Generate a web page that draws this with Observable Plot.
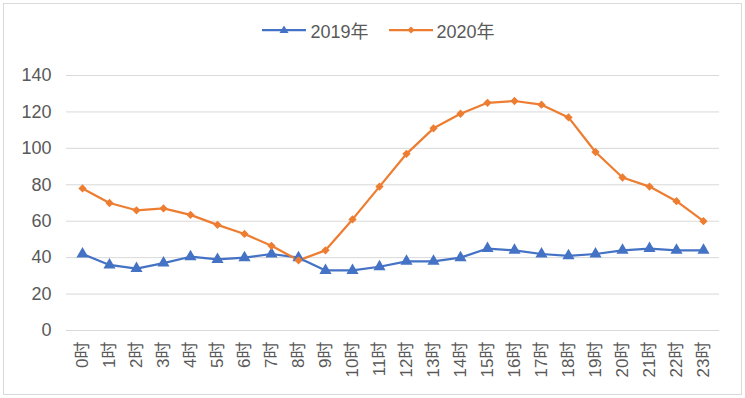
<!DOCTYPE html>
<html>
<head>
<meta charset="utf-8">
<script src="https://cdn.jsdelivr.net/npm/d3@7"></script>
<script src="https://cdn.jsdelivr.net/npm/@observablehq/plot@0.6"></script>
<style>
  html, body { margin: 0; padding: 0; background: #fff; }
  #frame { position: absolute; left: 3px; top: 3px; width: 737px; height: 390px; border: 1px solid #d9d9d9; overflow: hidden;
           font-family: "Liberation Sans", "Noto Sans CJK SC", sans-serif; color: #595959; }
  #legend { height: 52px; display: flex; justify-content: center; align-items: center; gap: 20px; font-size: 18px; padding-left: 12px; box-sizing: border-box; }
  .item { display: flex; align-items: center; gap: 4px; }
  #chart svg { display: block; }
</style>
</head>
<body>
<div id="frame">
  <div id="legend"></div>
  <div id="chart"></div>
</div>
<script>
const hours = ["0时","1时","2时","3时","4时","5时","6时","7时","8时","9时","10时","11时","12时","13时","14时","15时","16时","17时","18时","19时","20时","21时","22时","23时"];
const series2019 = [42,36,34,37,40.5,39,40,42,40,33,33,35,38,38,40,45,44,42,41,42,44,45,44,44];
const series2020 = [78,70,66,67,63.5,58,53,46.5,38.5,44,61,79,97,111,119,125,126,124,117,98,84,79,71,60];
const seriesNames = ["2019年","2020年"];
const colors = ["#4472C4","#ED7D31"];
const symbols = ["triangle","square"];
const yTicks = [0,20,40,60,80,100,120,140];

const rows = [];
hours.forEach((h,i) => {
  rows.push({hour:h, value:series2019[i], series:seriesNames[0]});
  rows.push({hour:h, value:series2020[i], series:seriesNames[1]});
});

// legend
const legend = document.getElementById("legend");
seriesNames.forEach((name,i) => {
  const it = document.createElement("div");
  it.className = "item";
  const sym = i === 0
    ? `<path d="M22,1.5 L26.5,9 L17.5,9 Z" fill="${colors[i]}"/>`
    : `<path d="M22,2.5 L25.5,6 L22,9.5 L18.5,6 Z" fill="${colors[i]}"/>`;
  it.innerHTML = `<svg width="44" height="12"><line x1="0" x2="44" y1="6" y2="6" stroke="${colors[i]}" stroke-width="2.25"/>${sym}</svg><span>${name}</span>`;
  legend.appendChild(it);
});

const chart = Plot.plot({
  width: 737,
  height: 338,
  marginTop: 19,
  marginBottom: 64,
  marginLeft: 62,
  marginRight: 22,
  style: {fontFamily: '"Liberation Sans", "Noto Sans CJK SC", sans-serif', fontSize: "17px", color: "#595959", background: "#fff"},
  x: {type: "point", domain: hours, padding: 0.5, label: null},
  y: {domain: [0,140], ticks: yTicks, label: null},
  color: {domain: seriesNames, range: colors},
  symbol: {domain: seriesNames, range: symbols},
  marks: [
    Plot.gridY(yTicks, {stroke: "#d9d9d9", strokeOpacity: 1, strokeWidth: 1}),
    Plot.axisY({ticks: yTicks, tickSize: 0, tickPadding: 15, fontSize: 18, fill: "#595959"}),
    Plot.axisX({tickSize: 0, tickPadding: 11, tickRotate: -90, fontSize: 17, fill: "#595959"}),
    Plot.line(rows, {x: "hour", y: "value", z: "series", stroke: "series", strokeWidth: 2.25}),
    Plot.dot(rows.filter(d => d.series === seriesNames[0]), {x: "hour", y: "value", symbol: "series", fill: "series", r: 4.5}),
    Plot.dot(rows.filter(d => d.series === seriesNames[1]), {x: "hour", y: "value", symbol: "series", fill: "series", r: 3.3, rotate: 45})
  ]
});
document.getElementById("chart").appendChild(chart);
</script>
</body>
</html>
